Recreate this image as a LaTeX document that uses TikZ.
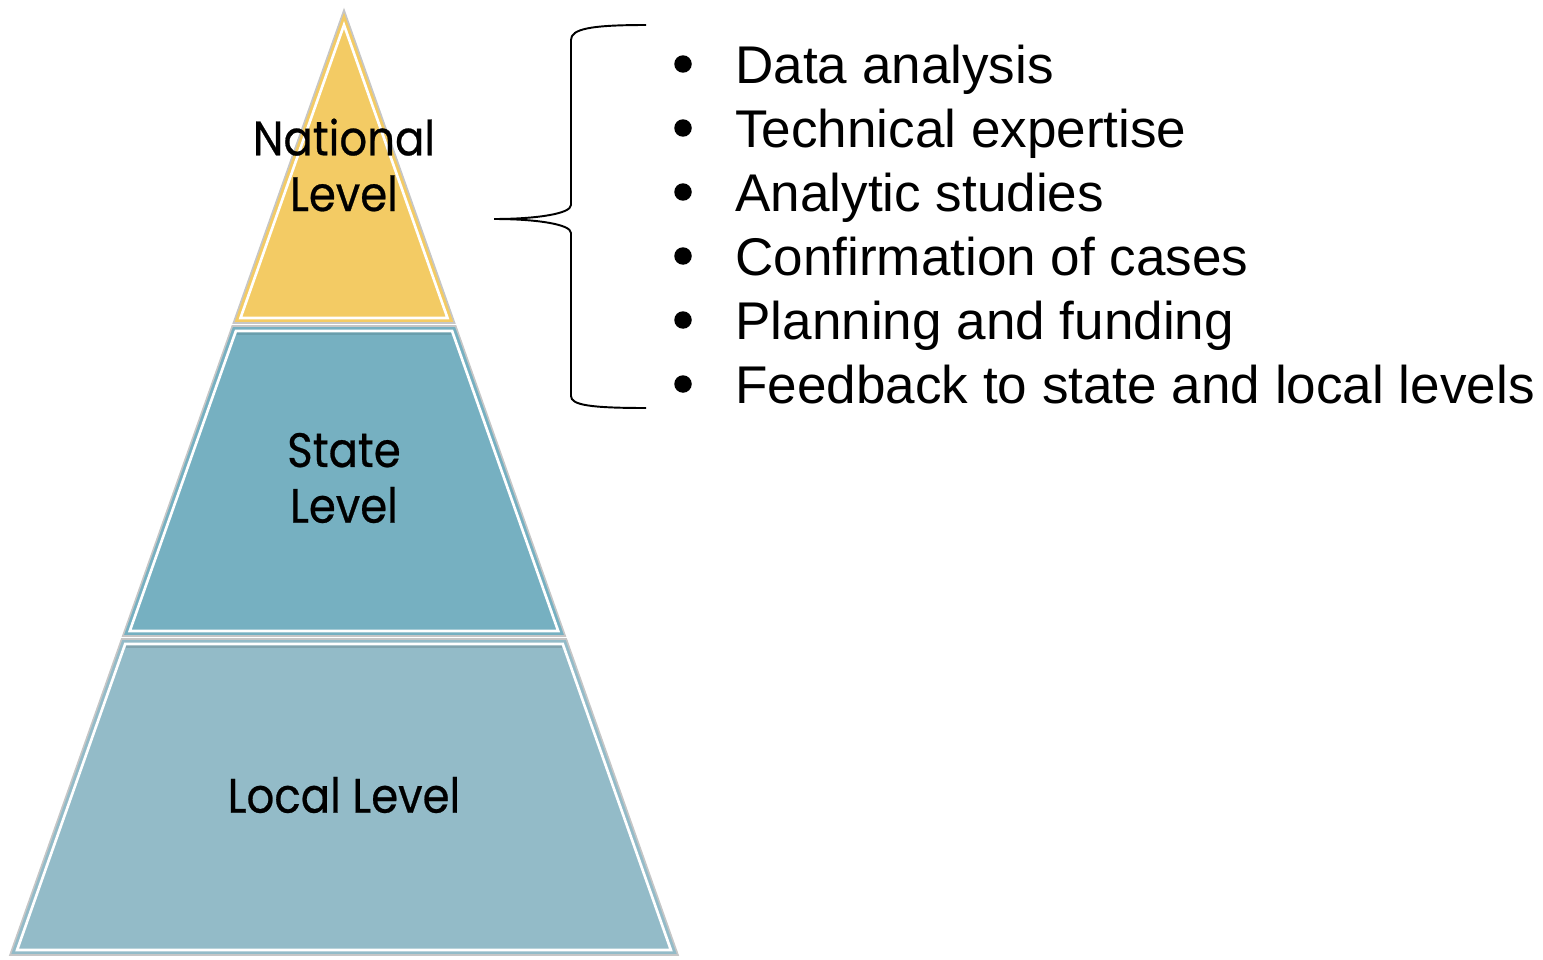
\documentclass[tikz,border=0pt]{standalone}
\usepackage{fontspec}
\setmainfont{Liberation Sans}
\newfontfamily\labfont[FakeStretch=0.9,FakeBold=0.5]{Poppins}
\definecolor{natcol}{RGB}{243,203,100}
\definecolor{stacol}{RGB}{118,176,193}
\definecolor{loccol}{RGB}{147,187,200}
\begin{document}
\begin{tikzpicture}[x=0.02cm,y=-0.02cm,
  segment/.style={draw=gray!45, line width=0.9pt, line join=miter},
  innerline/.style={draw=white, line width=1.5pt, line join=miter},
  lab/.style={font=\labfont\fontsize{27.5}{31.7}\selectfont, align=center, inner sep=0pt, text=black},
  item/.style={anchor=base west, inner sep=0pt, font=\fontsize{30.2}{36}\selectfont},
  bul/.style={circle, fill=black, inner sep=0pt, minimum size=0.35cm},
  bracepath/.style={draw=black, line width=1.1pt}]
\useasboundingbox (0,0) rectangle (1543,960);
% National
\fill[natcol] (344,10) -- (454.6,323) -- (233.4,323) -- cycle;
\draw[segment] (344,10) -- (454.6,323) -- (233.4,323) -- cycle;
\draw[innerline] (344,25) -- (447.5,318) -- (240.5,318) -- cycle;
% State
\fill[stacol] (232.3,326) -- (455.7,326) -- (565.2,636) -- (122.8,636) -- cycle;
\draw[segment] (232.3,326) -- (455.7,326) -- (565.2,636) -- (122.8,636) -- cycle;
\draw[stacol!80!black, line width=1.2pt, opacity=0.5] (237,333.5) -- (451,333.5);
\draw[innerline] (235.9,331) -- (452.1,331) -- (558.2,631) -- (129.8,631) -- cycle;
% Local
\fill[loccol] (121.7,639) -- (566.3,639) -- (678,955) -- (10,955) -- cycle;
\draw[segment] (121.7,639) -- (566.3,639) -- (678,955) -- (10,955) -- cycle;
\draw[loccol!75!black, line width=1.2pt, opacity=0.5] (126,646.5) -- (562,646.5);
\draw[innerline] (125.2,644) -- (562.8,644) -- (670.9,950) -- (17.1,950) -- cycle;
% Labels
\node[lab] (nat) at (344,165) {National\\Level};
\node[lab] (sta) at (344,478) {State\\Level};
\node[lab] (loc) at (344,795) {Local Level};
% Brace
\coordinate (btop) at (646,25);
\coordinate (btip) at (494,219);
\coordinate (bbot) at (646,408);
\draw[bracepath] (btop) .. controls (590,25) and (571,29) .. (571,40)
  -- (571,205) .. controls (571,214) and (535,219) .. (btip);
\draw[bracepath] (btip) .. controls (535,219) and (571,224) .. (571,233)
  -- (571,396) .. controls (571,405) and (590,408) .. (bbot);
% Items
\foreach \t/\y [count=\i] in {Data analysis/83,Technical expertise/147,Analytic studies/211,Confirmation of cases/275,Planning and funding/339,Feedback to state and local levels/403}{
  \node[bul] (b\i) at (683,\y-19) {};
  \node[item] (t\i) at (735,\y) {\t};
}
\end{tikzpicture}
\end{document}
